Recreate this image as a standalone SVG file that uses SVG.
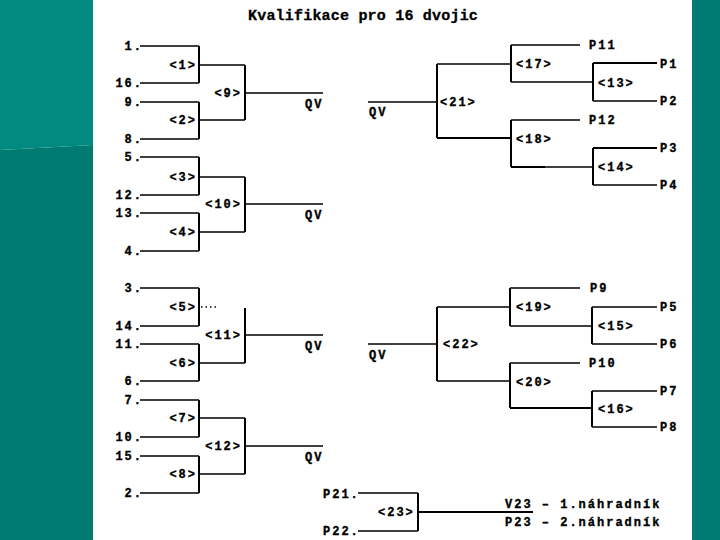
<svg xmlns="http://www.w3.org/2000/svg" width="720" height="540" viewBox="0 0 720 540">
<style>
.t{font-family:"Liberation Mono","DejaVu Sans Mono",monospace;font-weight:bold;font-size:12px;letter-spacing:2px;fill:#000;stroke:#000;stroke-width:0.35}
.e{text-anchor:end}
.title{font-family:"Liberation Mono","DejaVu Sans Mono",monospace;font-weight:bold;font-size:15px;letter-spacing:0.2px;fill:#000;stroke:#000;stroke-width:0.3}
.h{stroke:#000;stroke-width:1.3;fill:none}
.v{stroke:#000;stroke-width:2;fill:none}
.k{stroke:#000;stroke-width:2.2;fill:none}
.d{stroke:#000;stroke-width:1.3;stroke-dasharray:1.5 3;fill:none}
</style>
<rect x="0" y="0" width="720" height="540" fill="#ffffff"/>
<polygon points="0,0 93,0 93,145 0,150" fill="#008a80"/>
<polygon points="0,150 93,145 93,540 0,540" fill="#007b72"/>
<rect x="692" y="0" width="28" height="540" fill="#007b73"/>
<text class="title" x="248" y="20">Kvalifikace pro 16 dvojic</text>

<g id="connectors">
<path class="h" d="M140 46H199M140 83H199M140 102H199M140 139H199M140 157H199M140 195H199M140 213H199M140 251H199M140 288H199M140 326H199M140 344H199M140 381H199M140 400H199M140 437H199M140 456H199M140 493H199"/>
<path class="v" d="M199 46V83M199 102V139M199 157V195M199 213V251M199 288V326M199 344V381M199 400V437M199 456V493"/>
<path class="h" d="M199 65H245M199 120H245M199 177H245M199 232H245M199 363H245M199 418H245M199 474H245"/>
<path class="d" d="M201 307H219"/>
<path class="v" d="M245 65V120M245 177V232M245 308V363M245 418V474"/>
<path class="h" d="M245 93H323M245 204H323M245 335H323M245 446H323"/>
<path class="h" d="M368 102H437"/>
<path class="v" d="M437 64V138"/>
<path class="h" d="M437 64H511"/>
<path class="k" d="M437 138H511"/>
<path class="v" d="M511 45V82M511 120V167"/>
<path class="h" d="M511 45H580M511 120H580M511 82H593"/>
<path class="k" d="M511 167H545"/>
<path class="h" d="M545 167H593"/>
<path class="v" d="M593 63V101M593 148V185"/>
<path class="k" d="M593 63H657M593 148H657"/>
<path class="h" d="M593 101H657M593 185H657"/>
<path class="h" d="M368 344H437"/>
<path class="v" d="M437 307V381"/>
<path class="h" d="M437 307H510M437 381H510"/>
<path class="v" d="M510 288V326M510 363V408"/>
<path class="h" d="M510 288H580M510 363H580M510 326H592"/>
<path class="k" d="M510 408H592"/>
<path class="v" d="M592 307V344M592 391V427"/>
<path class="h" d="M592 307H657M592 344H657M592 391H657M592 427H657"/>
<path class="h" d="M358 493H418M358 531H418"/>
<path class="v" d="M418 493V531"/>
<path class="k" d="M418 512H533"/>
</g>

<g id="entries">
<text class="t e" x="143" y="50">1.</text>
<text class="t e" x="143" y="87">16.</text>
<text class="t e" x="143" y="106">9.</text>
<text class="t e" x="143" y="143">8.</text>
<text class="t e" x="143" y="161">5.</text>
<text class="t e" x="143" y="199">12.</text>
<text class="t e" x="143" y="217">13.</text>
<text class="t e" x="143" y="255">4.</text>
<text class="t e" x="143" y="292">3.</text>
<text class="t e" x="143" y="330">14.</text>
<text class="t e" x="143" y="348">11.</text>
<text class="t e" x="143" y="385">6.</text>
<text class="t e" x="143" y="404">7.</text>
<text class="t e" x="143" y="441">10.</text>
<text class="t e" x="143" y="460">15.</text>
<text class="t e" x="143" y="497">2.</text>
</g>
<g id="m1"><text class="t e" x="197" y="69">&lt;1&gt;</text></g>
<g id="m2"><text class="t e" x="197" y="124">&lt;2&gt;</text></g>
<g id="m3"><text class="t e" x="197" y="181">&lt;3&gt;</text></g>
<g id="m4"><text class="t e" x="197" y="236">&lt;4&gt;</text></g>
<g id="m5"><text class="t e" x="197" y="311">&lt;5&gt;</text></g>
<g id="m6"><text class="t e" x="197" y="367">&lt;6&gt;</text></g>
<g id="m7"><text class="t e" x="197" y="422">&lt;7&gt;</text></g>
<g id="m8"><text class="t e" x="197" y="478">&lt;8&gt;</text></g>
<g id="m9"><text class="t e" x="242" y="97">&lt;9&gt;</text><text class="t" x="305" y="108">QV</text></g>
<g id="m10"><text class="t e" x="242" y="208">&lt;10&gt;</text><text class="t" x="305" y="219">QV</text></g>
<g id="m11"><text class="t e" x="242" y="339">&lt;11&gt;</text><text class="t" x="305" y="350">QV</text></g>
<g id="m12"><text class="t e" x="242" y="450">&lt;12&gt;</text><text class="t" x="305" y="461">QV</text></g>

<g id="m21"><text class="t" x="369" y="116">QV</text><text class="t" x="440" y="106">&lt;21&gt;</text></g>
<g id="m17"><text class="t" x="516" y="68">&lt;17&gt;</text><text class="t" x="589" y="49">P11</text></g>
<g id="m13"><text class="t" x="598" y="87">&lt;13&gt;</text><text class="t" x="660" y="68">P1</text><text class="t" x="660" y="105">P2</text></g>
<g id="m18"><text class="t" x="516" y="143">&lt;18&gt;</text><text class="t" x="589" y="124">P12</text></g>
<g id="m14"><text class="t" x="598" y="171">&lt;14&gt;</text><text class="t" x="660" y="152">P3</text><text class="t" x="660" y="189">P4</text></g>

<g id="m22"><text class="t" x="369" y="359">QV</text><text class="t" x="443" y="348">&lt;22&gt;</text></g>
<g id="m19"><text class="t" x="516" y="311">&lt;19&gt;</text><text class="t" x="590" y="292">P9</text></g>
<g id="m15"><text class="t" x="598" y="330">&lt;15&gt;</text><text class="t" x="660" y="311">P5</text><text class="t" x="660" y="348">P6</text></g>
<g id="m20"><text class="t" x="516" y="386">&lt;20&gt;</text><text class="t" x="589" y="367">P10</text></g>
<g id="m16"><text class="t" x="598" y="413">&lt;16&gt;</text><text class="t" x="660" y="395">P7</text><text class="t" x="660" y="431">P8</text></g>

<g id="m23">
<text class="t" x="323" y="498">P21.</text>
<text class="t" x="323" y="535">P22.</text>
<text class="t" x="378" y="516">&lt;23&gt;</text>
<text class="t" x="505" y="508">V23 – 1.náhradník</text>
<text class="t" x="505" y="526">P23 – 2.náhradník</text>
</g>
</svg>
